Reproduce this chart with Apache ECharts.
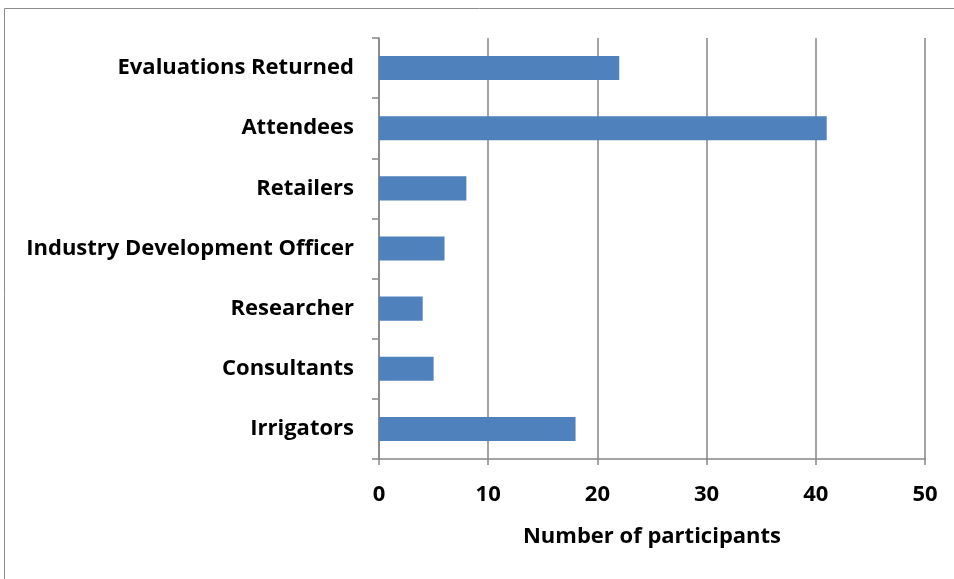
<!DOCTYPE html>
<html><head><meta charset="utf-8">
<script src="https://cdn.jsdelivr.net/npm/echarts@6/dist/echarts.min.js"></script>
<style>html,body{margin:0;padding:0;background:#fff}#c{width:954px;height:579px}</style>
</head><body><div id="c"></div>
<script>
const categories = ["Irrigators","Consultants","Researcher","Industry Development Officer","Retailers","Attendees","Evaluations Returned"];
const values = [18,5,4,6,8,41,22];
const xTicks = [0,10,20,30,40,50];
const xTitle = "Number of participants";

const chart = echarts.init(document.getElementById('c'));
const font = '"Open Sans", Lato, sans-serif';
chart.setOption({
  animation:false,
  graphic:[{type:'rect',shape:{x:4.5,y:8.5,width:1000,height:1000},style:{fill:'none',stroke:'#8c8c8c',lineWidth:1}}],
  grid:{left:379,right:29,top:38,bottom:120},
  xAxis:{type:'value',min:xTicks[0],max:xTicks[xTicks.length-1],interval:10,
    axisLine:{show:true,lineStyle:{color:'#868686',width:1.5}},
    axisTick:{show:true,length:6,lineStyle:{color:'#868686',width:1.5}},
    splitLine:{show:true,lineStyle:{color:'#868686',width:1.5}},
    axisLabel:{color:'#000',fontFamily:font,fontWeight:'bold',fontSize:22,margin:25},
    name:xTitle,nameLocation:'middle',nameGap:67,
    nameTextStyle:{color:'#000',fontFamily:font,fontWeight:'bold',fontSize:22}},
  yAxis:{type:'category',data:categories,
    axisLine:{show:true,lineStyle:{color:'#868686',width:1.5}},
    axisTick:{show:true,length:7,lineStyle:{color:'#868686',width:1.5}},
    axisLabel:{color:'#000',fontFamily:font,fontWeight:'bold',fontSize:22,margin:25,padding:[4,0,0,0]}},
  series:[{type:'bar',data:values,barCategoryGap:'60%',itemStyle:{color:'#4F81BD'}}]
});
</script></body></html>
